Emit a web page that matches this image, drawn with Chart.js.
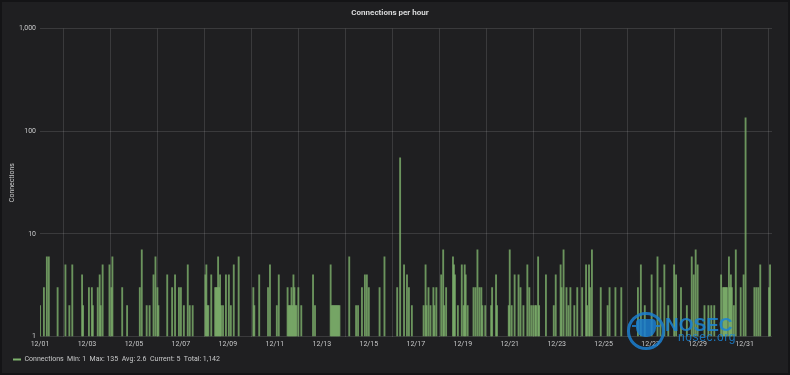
<!DOCTYPE html>
<html>
<head>
<meta charset="utf-8">
<script src="https://cdn.jsdelivr.net/npm/chart.js@4"></script>
<style>
  html,body{margin:0;padding:0;background:#141416;}
  #wrap{position:relative;width:790px;height:375px;background:#1f1f21;box-sizing:border-box;border:2px solid #141416;}
  canvas{position:absolute;left:-2px;top:-2px;}
  #wm{position:absolute;left:625px;top:310px;width:150px;height:45px;pointer-events:none;opacity:0.85;}
  #wm .logo{position:absolute;left:0;top:0;width:32px;height:32px;border:3px solid #1c7fd0;border-radius:50%;}
  #wm .head{position:absolute;left:9px;top:7px;width:20px;height:18px;background:#1c7fd0;border-radius:4px 4px 9px 9px;}
  #wm .hat{position:absolute;left:5px;top:13px;width:28px;height:2px;background:#1c7fd0;}
  #wm .t1{position:absolute;left:38px;top:3px;font:bold 19px "Liberation Sans",Arial,sans-serif;color:#1c84d6;line-height:19px;}
  #wm .t2{position:absolute;left:51px;top:18px;font:12px "Liberation Sans",Arial,sans-serif;color:#1c84d6;letter-spacing:0.6px;line-height:14px;}
</style>
</head>
<body>
<div id="wrap">
<canvas id="c" width="790" height="375"></canvas>
<div id="wm"><div class="logo"></div><div class="hat"></div><div class="head"></div><div class="t1">NOSEC</div><div class="t2">nosec.org</div></div>
</div>
<script>
// Hour offsets from 12/01 00:00 that have a visible count (values of 1 sit on the log baseline)
const hours = [0,4,7,9,18,26,30,33,43,44,50,53,54,59,61,62,64,71,73,74,84,89,102,104,109,112,116,118,
120,121,130,135,138,142,144,147,151,153,156,169,170,171,172,175,179,180,181,182,183,184,185,187,190,193,195,198,203,218,219,224,233,235,242,244,
253,254,255,256,257,258,259,260,261,262,264,267,279,281,297,298,299,300,301,302,303,304,305,306,316,323,325,329,332,334,336,347,352,365,368,372,375,377,380,
392,394,395,397,399,402,403,405,410,412,413,415,422,423,424,427,431,433,434,435,437,443,445,447,449,451,452,455,461,462,466,467,479,480,482,485,489,491,494,498,500,502,
504,506,507,509,510,517,525,527,532,533,535,538,540,542,546,549,554,558,559,561,562,564,573,580,582,588,594,611,614,618,625,631,
634,638,642,648,650,655,661,666,668,670,672,679,683,686,689,696,698,699,700,701,702,704,705,706,707,709,711,716,719,721,730,732,734,736,745,746];
const connections = [2,3,6,6,3,5,2,5,4,2,3,3,2,3,4,2,5,5,3,6,3,2,3,7,2,2,4,6,
3,2,4,3,4,3,3,2,5,2,2,4,5,2,2,4,3,3,3,6,3,4,2,2,4,4,2,5,6,3,2,4,3,5,2,4,
3,2,2,2,3,2,4,3,2,2,3,2,4,2,5,2,2,2,2,2,2,2,2,2,6,2,2,3,4,4,3,3,6,3,55,5,4,3,2,
2,5,2,3,2,3,2,3,4,7,2,3,6,5,4,2,5,2,5,4,2,3,3,7,3,3,2,2,2,3,4,2,2,7,2,4,4,3,2,5,3,2,
2,2,2,6,2,4,2,4,5,3,7,3,2,3,2,3,3,5,2,5,3,7,3,2,3,3,3,3,5,2,4,6,
3,5,2,5,4,3,2,6,4,7,5,2,2,2,2,4,3,3,3,3,3,6,3,4,3,2,7,3,4,135,3,3,3,5,3,5];
const xTickHours = [0,48,96,144,192,240,288,336,384,432,480,528,576,624,672,720];
const yTickValues = [1,10,100,1000];
const seriesName = 'Connections';
const legendStats = ['Min: 1','Max: 135','Avg: 2.6','Current: 5','Total: 1,142'];

const points = hours.map((h,i)=>({x:h,y:connections[i]}));
const txt = '#c8c9ca';
const grid = 'rgba(255,255,255,0.12)';
const FONT = 'Roboto, "Liberation Sans", sans-serif';

new Chart(document.getElementById('c'),{
  type:'bar',
  data:{datasets:[{
    label: seriesName + '  ' + legendStats.join('  '),
    data: points,
    backgroundColor:'rgba(126,178,109,0.8)',
    borderWidth:0,
    barThickness:1.2,
    base:1
  }]},
  options:{
    responsive:false,
    animation:false,
    devicePixelRatio:1,
    layout:{padding:{left:8,right:18,top:2,bottom:2}},
    plugins:{
      title:{display:true,text:'Connections per hour',color:'#d8d9da',
        font:{family:FONT,size:8,weight:'bold'},padding:{top:6,bottom:11}},
      legend:{position:'bottom',align:'start',
        labels:{color:txt,font:{family:FONT,size:7},boxWidth:8,boxHeight:2,padding:5,
          generateLabels:(chart)=>[{text:chart.data.datasets[0].label,fillStyle:'#7eb26d',strokeStyle:'#7eb26d',lineWidth:0,hidden:false,datasetIndex:0,fontColor:txt}]}},
      tooltip:{enabled:false}
    },
    scales:{
      x:{type:'linear',min:0,max:748,offset:false,
        grid:{color:grid,drawTicks:false},
        border:{display:false},
        afterBuildTicks:(s)=>{s.ticks = xTickHours.map(v=>({value:v}));},
        ticks:{color:txt,font:{family:FONT,size:7},padding:3,maxRotation:0,autoSkip:false,
          callback:(v)=>'12/'+String(Math.floor(v/24)+1).padStart(2,'0')}
      },
      y:{type:'logarithmic',min:1,max:1000,
        grid:{color:grid,drawTicks:false},
        border:{display:false},
        afterBuildTicks:(s)=>{s.ticks = yTickValues.map(v=>({value:v}));},
        afterFit:(s)=>{s.width = 32;},
        title:{display:true,text:'Connections',color:txt,font:{family:FONT,size:7},padding:{top:0,bottom:4}},
        ticks:{color:txt,font:{family:FONT,size:7},padding:4,autoSkip:false,
          callback:(v)=>Number(v).toLocaleString('en-US')}
      }
    }
  }
});
</script>
</body>
</html>
